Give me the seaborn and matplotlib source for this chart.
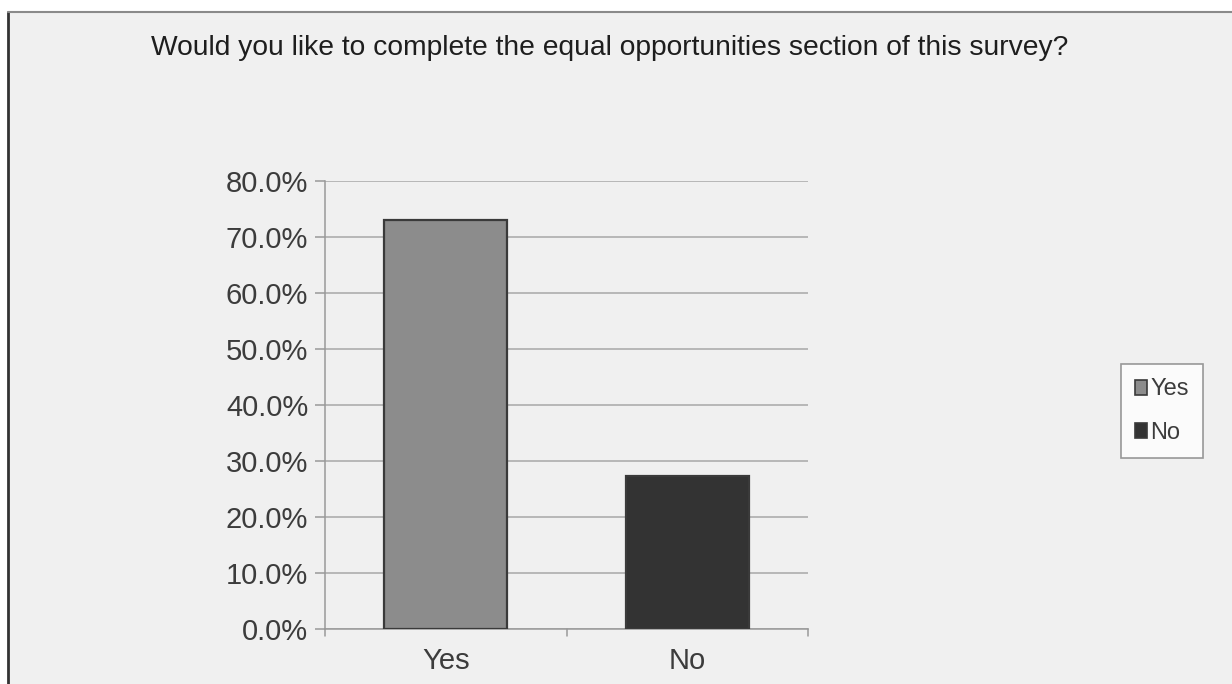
import matplotlib
matplotlib.use("Agg")
import matplotlib.pyplot as plt
from matplotlib.lines import Line2D
from matplotlib.patches import Rectangle
from matplotlib.ticker import FuncFormatter, MultipleLocator
import seaborn as sns
import pandas as pd

categories = ["Yes", "No"]
shares = [0.731, 0.273]
bar_colors = ["#8c8c8c", "#333333"]
title = "Would you like to complete the equal opportunities section of this survey?"

sns.set_theme(style="white")
plt.rcParams["font.family"] = ["Liberation Sans", "DejaVu Sans"]

W, H = 1232, 684
fig = plt.figure(figsize=(W / 100, H / 100), dpi=100, facecolor="white")

# grey panel with a frame on its top and left sides
fig.patches.append(Rectangle((8 / W, 0), 1, 1 - 12 / H, transform=fig.transFigure,
                             facecolor="#f0f0f0", edgecolor="none", zorder=-10))
fig.add_artist(Line2D([8 / W, 8 / W], [0, 1 - 12 / H], transform=fig.transFigure,
                      color="#333333", lw=2, zorder=-5))
fig.add_artist(Line2D([8 / W, 1], [1 - 12 / H, 1 - 12 / H], transform=fig.transFigure,
                      color="#8a8a8a", lw=1.5, zorder=-5))

ax = fig.add_axes([325 / W, 1 - 629 / H, (808 - 325) / W, (629 - 181) / H])
ax.set_zorder(2)
ax.set_facecolor("#f0f0f0")

df = pd.DataFrame({"answer": categories, "share": shares})
sns.barplot(data=df, x="answer", y="share", hue="answer", palette=bar_colors,
            width=0.51, dodge=False, legend=False, edgecolor="#3a3a3a",
            linewidth=1.6, ax=ax, zorder=3)

ax.set_ylim(0, 0.8)
ax.set_xlim(-0.5, 1.5)
ax.yaxis.set_major_locator(MultipleLocator(0.1))
ax.yaxis.set_major_formatter(FuncFormatter(lambda v, _: f"{v * 100:.1f}%"))
ax.grid(axis="y", color="#a8a8a8", lw=1.1, zorder=0)
ax.set_axisbelow(True)
ax.set_xlabel("")
ax.set_ylabel("")

for side in ["top", "right"]:
    ax.spines[side].set_visible(False)
for side in ["left", "bottom"]:
    ax.spines[side].set_color("#999999")
    ax.spines[side].set_linewidth(1.1)

ax.tick_params(axis="y", which="major", direction="out", length=7, width=1.1,
               color="#999999", left=True, labelsize=21, labelcolor="#3c3c3c", pad=5)
ax.set_xticks([0, 1])
ax.set_xticklabels(categories)
ax.tick_params(axis="x", which="major", length=0, labelsize=21,
               labelcolor="#3c3c3c", pad=13)
# category boundary ticks under the x axis
for xb in [-0.5, 0.5, 1.5]:
    ax.plot([xb, xb], [0, -0.012], color="#999999", lw=1.1, clip_on=False,
            transform=ax.transData)

fig.text(610 / W, 1 - 48 / H, title, ha="center", va="center", fontsize=20.3,
         color="#1e1e1e")

handles = [Rectangle((0, 0), 1, 1, facecolor=c, edgecolor="#3a3a3a", lw=1.2)
           for c in bar_colors]
leg = fig.legend(handles, categories, loc="center", bbox_to_anchor=(1162 / W, 1 - 411 / H),
                 frameon=True, fontsize=17, handlelength=0.5, handleheight=0.6,
                 handletextpad=0.12, labelspacing=0.9, borderpad=0.6,
                 fancybox=False, labelcolor="#3c3c3c")
leg.get_frame().set_edgecolor("#808080")
leg.get_frame().set_facecolor("white")
leg.get_frame().set_linewidth(1.2)

fig.savefig("out.png", dpi=100, facecolor="white")
